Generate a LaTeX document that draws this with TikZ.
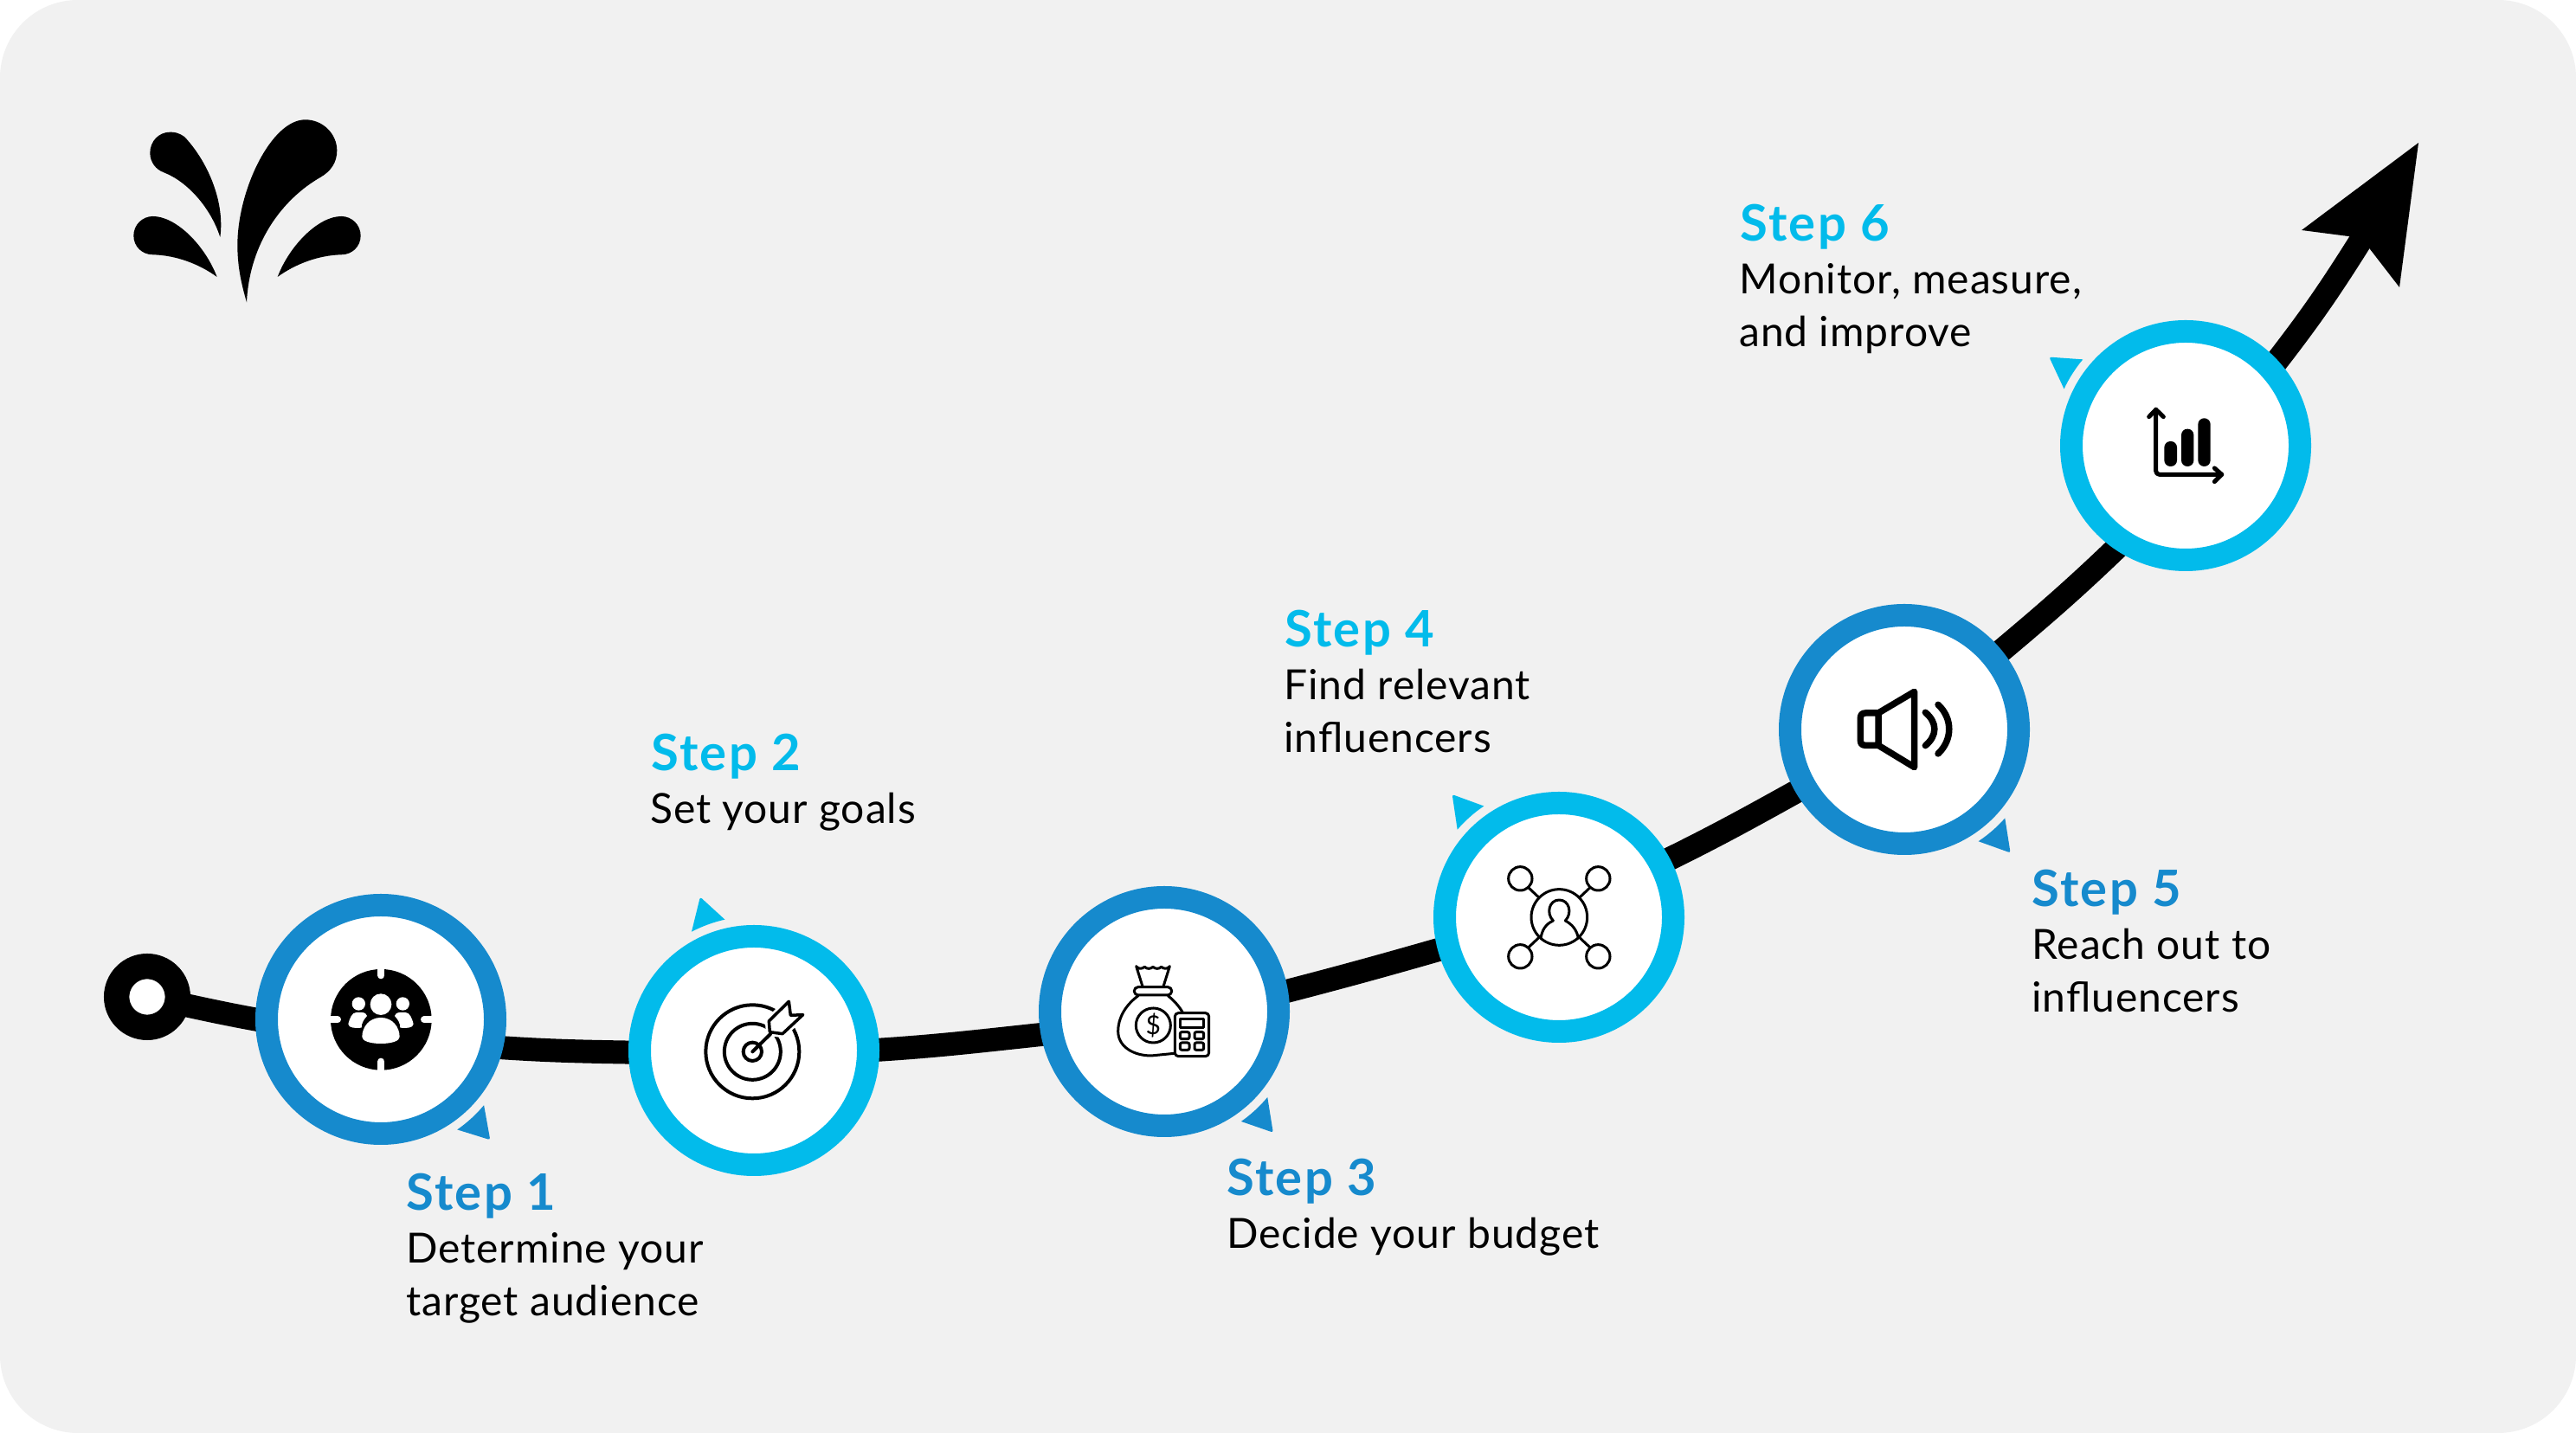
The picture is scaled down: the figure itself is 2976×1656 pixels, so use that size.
\documentclass[tikz,border=0pt]{standalone}
\usepackage{fontspec}
\setmainfont{Lato}
\usetikzlibrary{calc,backgrounds}
\definecolor{panel}{HTML}{F1F1F1}
\definecolor{darkblue}{HTML}{168ACD}
\definecolor{lightblue}{HTML}{02BBEB}
\tikzset{
  ring/.style={circle,draw=#1,line width=26pt,fill=white,minimum size=264pt,inner sep=0pt,outer sep=0pt},
  startdot/.style={circle,draw=black,line width=29.4pt,fill=white,minimum size=70.6pt,inner sep=0pt,outer sep=0pt},
  track/.style={draw=black,line width=27pt,line cap=butt},
  steptitle/.style={anchor=base west,inner sep=0pt,font=\fontsize{58}{60}\selectfont\bfseries\addfontfeature{LetterSpace=4},text=#1},
  stepbody/.style={anchor=base west,inner sep=0pt,align=left,font=\fontsize{48}{60.5}\selectfont\addfontfeature{LetterSpace=2},text=black},
  zoomed/.style 2 args={shift={(#1,1656-#2)},x=0.33333pt,y=-0.33333pt},
  iconline/.style={draw=black,line width=#1,line cap=round,line join=round},
  iconline/.default=3.5pt
}
% pointer triangle beside a ring: node, colour, arc start, arc end, tip angle
\newcommand{\pointer}[5]{%
  \fill[#2] ($(#1)+(#3:155)$) arc[start angle=#3,end angle=#4,radius=155]
    [rounded corners=2.5pt] -- ($(#1)+(#5:188)$) [sharp corners] -- cycle;}
\begin{document}
\begin{tikzpicture}[x=1pt,y=1pt]
\useasboundingbox (0,0) rectangle (2976,1656);
% step markers
\node[startdot] (start) at (170,504) {};
\node[ring=darkblue]  (n1) at (440,478) {};
\node[ring=lightblue] (n2) at (871,442) {};
\node[ring=darkblue]  (n3) at (1345,487) {};
\node[ring=lightblue] (n4) at (1801,596) {};
\node[ring=darkblue]  (n5) at (2200,813) {};
\node[ring=lightblue] (n6) at (2525,1141) {};
\coordinate (shaftend) at (2731,1384);
\coordinate (tip) at (2794,1491);
\coordinate (barbL) at (2659,1390);
\coordinate (notch) at (2728,1381);
\coordinate (barbR) at (2772,1324);
\begin{scope}[on background layer]
  \fill[white] (0,0) rectangle (2976,1656);
  \fill[panel,rounded corners=90pt] (0,0) rectangle (2976,1656);
  \draw[track] (start.center) to[out=-12,in=170] (n1.181);
  \draw[track] (n1.-14.5) to[out=-4,in=179] (n2.181.7);
  \draw[track] (n2.0) to[out=3.5,in=186] (n3.191.8);
  \draw[track] (n3.9) to[out=14.5,in=196] (n4.195);
  \draw[track] (n4.28.5) to[out=26,in=209] (n5.210);
  \draw[track] (n5.39.8) to[out=40,in=224] (n6.237.4);
  \draw[track] (n6.42.9) to[out=52,in=238] (shaftend);
\end{scope}
\fill[black] (tip) -- (barbL) -- (notch) -- (barbR) -- cycle;
% pointers
\pointer{n1}{darkblue}{-39.8}{-55.3}{-47.8}
\pointer{n2}{lightblue}{102.5}{117.7}{109.3}
\pointer{n3}{darkblue}{-39.7}{-55}{-48}
\pointer{n4}{lightblue}{124}{139.2}{131}
\pointer{n5}{darkblue}{-41.4}{-56.5}{-49.3}
\pointer{n6}{lightblue}{140}{155}{147}
% labels
\node[steptitle=darkblue]  (t1) at (469,257) {Step 1};
\node[stepbody] (b1) at (469,135.5) {Determine your\\target audience};
\node[steptitle=lightblue] (t2) at (752,765) {Step 2};
\node[stepbody] (b2) at (751,704) {Set your goals};
\node[steptitle=darkblue]  (t3) at (1417,274) {Step 3};
\node[stepbody] (b3) at (1417,213) {Decide your budget};
\node[steptitle=lightblue] (t4) at (1484,908) {Step 4};
\node[stepbody] (b4) at (1483,786.5) {Find relevant\\influencers};
\node[steptitle=darkblue]  (t5) at (2347,608) {Step 5};
\node[stepbody] (b5) at (2347,486.5) {Reach out to\\influencers};
\node[steptitle=lightblue] (t6) at (2010,1377) {Step 6};
\node[stepbody] (b6) at (2009,1255.5) {Monitor, measure,\\and improve};
% logo
\begin{scope}[zoomed={100}{100}]
  \fill[black] (555,748) .. controls (535,680) and (523,620) .. (523,550) .. controls (523,360) and (640,115) .. (758,115) .. controls (820,115) and (868,165) .. (868,222) .. controls (868,265) and (845,295) .. (810,315) .. controls (680,390) and (565,540) .. (555,748) -- cycle;
  \fill[black] (463,522) .. controls (480,400) and (420,260) .. (340,175) .. controls (320,160) and (305,158) .. (290,158) .. controls (250,158) and (220,190) .. (220,230) .. controls (220,262) and (240,288) .. (268,298) .. controls (350,330) and (430,420) .. (463,522) -- cycle;
  \fill[black] (452,660) .. controls (410,550) and (310,450) .. (230,450) .. controls (193,450) and (163,480) .. (163,517) .. controls (163,555) and (193,583) .. (230,583) .. controls (310,585) and (390,615) .. (452,660) -- cycle;
  \fill[black] (662,660) .. controls (704,550) and (804,450) .. (883,450) .. controls (920,450) and (950,480) .. (950,517) .. controls (950,555) and (920,583) .. (883,583) .. controls (804,585) and (724,615) .. (662,660) -- cycle;
\end{scope}
% icon 1: audience in a target
\begin{scope}[zoomed={280}{1020}]
  \fill[black] (481,475) circle[radius=175];
  \draw[white,line width=8pt,line cap=round] (481,295)--(481,322) (481,655)--(481,620) (301,475)--(330,475) (661,475)--(630,475);
  \fill[white] (480,422) circle[radius=37] (403,420) circle[radius=23] (556,420) circle[radius=23];
  \fill[white] (415,535) .. controls (415,500) and (440,468) .. (480,468) .. controls (520,468) and (545,500) .. (545,535) .. controls (545,548) and (520,558) .. (480,558) .. controls (440,558) and (415,548) .. (415,535) -- cycle;
  \fill[white] (367,490) .. controls (372,470) and (380,450) .. (395,450) -- (415,450) .. controls (425,450) and (432,458) .. (432,462) .. controls (420,475) and (412,490) .. (413,503) .. controls (395,505) and (367,505) .. (367,490) -- cycle;
  \fill[white] (593,490) .. controls (588,470) and (580,450) .. (565,450) -- (545,450) .. controls (535,450) and (528,458) .. (528,462) .. controls (540,475) and (548,490) .. (547,503) .. controls (565,505) and (593,505) .. (593,490) -- cycle;
\end{scope}
% icon 2: dartboard
\begin{scope}[zoomed={720}{1020}]
  \draw[iconline=4pt] (448,586) circle[radius=162] (448,586) circle[radius=97.5] (448,586) circle[radius=32];
  \draw[white,line width=9pt,line join=round] (505,480) -- (574,412) -- (580,460) -- (623,458) -- (552,524) -- (508,518) -- cycle;
  \draw[iconline=4pt] (448,586) -- (510,525);
  \draw[iconline=3.5pt,fill=white] (505,480) -- (574,412) -- (580,460) -- (623,458) -- (552,524) -- (508,518) -- cycle;
\end{scope}
% icon 3: money bag and calculator
\begin{scope}[zoomed={1190}{1020}]
  \draw[iconline=3pt] (368,290) .. controls (375,300) and (388,300) .. (397,292) .. controls (405,300) and (418,300) .. (426,292) .. controls (434,300) and (447,300) .. (455,292) .. controls (463,300) and (477,300) .. (484,290) -- (462,360) (368,290) -- (390,360);
  \draw[iconline=3pt,rounded corners=4.5pt] (361,362) rectangle (491,390);
  \draw[iconline=3pt] (375,392) .. controls (330,425) and (305,470) .. (305,515) .. controls (305,570) and (360,600) .. (420,600) -- (500,592);
  \draw[iconline=3pt] (478,392) .. controls (500,410) and (518,430) .. (530,452);
  \draw[iconline=3pt] (427,495) circle[radius=60];
  \node[inner sep=0pt,font=\fontsize{30}{30}\selectfont] (dollar) at (427,495) {\$};
  \draw[iconline=3pt,fill=white,rounded corners=4pt] (502,452) rectangle (620,602);
  \draw[iconline=3pt] (520,472) rectangle (602,502);
  \draw[iconline=3pt,rounded corners=2pt] (520,518) rectangle (552,542) (570,518) rectangle (602,542) (520,555) rectangle (552,580) (570,555) rectangle (602,580);
\end{scope}
% icon 4: influencer network
\begin{scope}[zoomed={1640}{900}]
  \draw[iconline=3pt] (349,346) circle[radius=41] (619,346) circle[radius=41] (349,616) circle[radius=41] (619,616) circle[radius=41] (484,480) circle[radius=97];
  \draw[iconline=3pt] (378,378) -- (412,410) (590,378) -- (556,410) (378,584) -- (412,552) (590,584) -- (556,552);
  \draw[iconline=3pt] (463,492) .. controls (437,465) and (450,420) .. (484,420) .. controls (518,420) and (531,465) .. (505,492);
  \draw[iconline=3pt] (463,492) .. controls (435,505) and (425,525) .. (420,552) (505,492) .. controls (530,505) and (545,525) .. (550,552);
\end{scope}
% icon 5: speaker
\begin{scope}[zoomed={2040}{690}]
  \draw[iconline=7.5pt] (390,402) -- (345,402) .. controls (332,402) and (328,410) .. (328,420) -- (328,496) .. controls (328,506) and (332,514) .. (345,514) -- (390,514) -- cycle;
  \draw[iconline=7.5pt] (390,402) -- (515,328) -- (515,590) -- (390,514);
  \draw[iconline=7.5pt] (553,400) .. controls (595,435) and (595,480) .. (553,515);
  \draw[iconline=7.5pt] (597,373) .. controls (648,420) and (648,495) .. (597,543);
\end{scope}
% icon 6: bar chart
\begin{scope}[zoomed={2440}{440}]
  \draw[iconline=5pt,rounded corners=4pt] (152,100) -- (152,325) -- (380,325);
  \draw[iconline=5pt] (128,125) -- (152,100) -- (178,125) (355,303) -- (380,325) -- (355,350);
  \fill[black,rounded corners=7pt] (181,210) rectangle (225,297) (240,167) rectangle (283,297) (298,130) rectangle (341,297);
\end{scope}
\end{tikzpicture}
\end{document}
